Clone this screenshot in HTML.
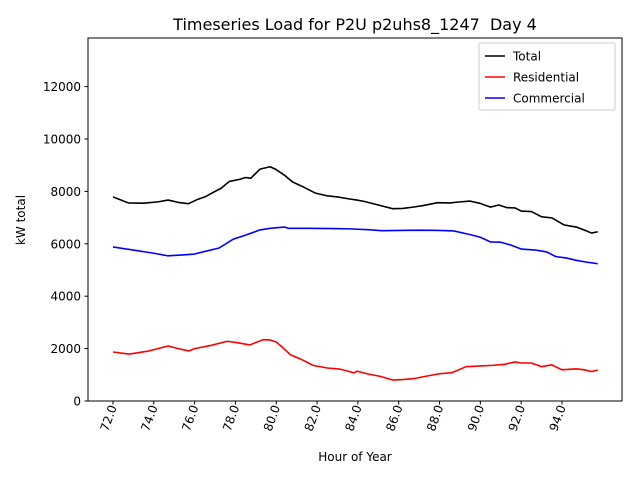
<!DOCTYPE html>
<html><head><meta charset="utf-8"><style>
body{margin:0;background:#fff}
svg{font-family:"DejaVu Sans","Liberation Sans",sans-serif}
</style></head><body>
<svg width="640" height="480" xmlns="http://www.w3.org/2000/svg">
<rect width="640" height="480" fill="#fff"/>
<text x="355" y="30" font-size="16" text-anchor="middle" style="white-space:pre">Timeseries Load for P2U p2uhs8_1247  Day 4</text>
<g id="plot"></g>
<rect x="88" y="38" width="534" height="363" fill="none" stroke="#000" stroke-width="1"/>
<text x="355" y="461" font-size="12" text-anchor="middle">Hour of Year</text>
<text transform="translate(25,220) rotate(-90)" font-size="12" text-anchor="middle">kW total</text>
<g>
<rect x="479" y="43" width="136" height="67" fill="#fff" stroke="#ccc" rx="2"/>
<line x1="485" y1="56" x2="505" y2="56" stroke="#000" stroke-width="1.6"/>
<text x="513" y="60.5" font-size="12">Total</text>
<line x1="485" y1="77" x2="505" y2="77" stroke="red" stroke-width="1.6"/>
<text x="513" y="81.5" font-size="12">Residential</text>
<line x1="485" y1="98" x2="505" y2="98" stroke="blue" stroke-width="1.6"/>
<text x="513" y="102.5" font-size="12">Commercial</text>
</g>
</svg>
<script>
const xTicks=[72,74,76,78,80,82,84,86,88,90,92,94];
const yTicks=[0,2000,4000,6000,8000,10000,12000];
const totalHours=[72,72.75,73.5,74.2,74.7,75.2,75.7,76.1,76.5,77,77.3,77.7,78.2,78.5,78.75,79.2,79.7,80,80.4,80.8,81.3,81.9,82.5,83,83.6,83.95,84.3,85,85.7,86.2,86.7,87.2,87.9,88.5,89,89.5,90,90.5,90.9,91.3,91.7,92,92.5,93,93.5,94.1,94.7,95.1,95.45,95.75];
const totalValues=[7790,7560,7550,7600,7670,7580,7530,7680,7790,8000,8120,8380,8460,8530,8500,8850,8940,8830,8620,8360,8180,7940,7830,7790,7710,7670,7620,7480,7340,7350,7400,7460,7570,7560,7600,7630,7540,7400,7480,7380,7370,7250,7230,7030,6990,6720,6640,6520,6410,6460];
const resHours=[72,72.8,73.7,74.7,75.2,75.7,76,76.8,77.6,78.2,78.7,79.35,79.7,80,80.3,80.7,81.2,81.8,82.5,83.1,83.6,83.8,83.95,84.5,85.1,85.7,86.2,86.7,87.3,88,88.6,89.3,90,90.6,91.2,91.7,92,92.5,93,93.5,94,94.7,95.1,95.45,95.75];
const resValues=[1870,1790,1900,2100,2000,1910,2000,2120,2280,2210,2140,2340,2330,2250,2050,1760,1600,1360,1260,1220,1120,1070,1140,1030,940,800,820,850,940,1040,1080,1310,1340,1360,1400,1490,1450,1450,1310,1380,1190,1230,1190,1120,1180];
const comHours=[72,73,74,74.7,75.5,76,76.4,77.2,77.9,78.5,79.2,79.7,80.4,80.6,81.5,82.8,83.6,84.5,85.2,86,87,88,88.7,89.5,90,90.5,91,91.5,92,92.7,93.25,93.7,94.2,94.7,95.2,95.75];
const comValues=[5880,5760,5640,5540,5580,5610,5690,5840,6180,6330,6530,6590,6640,6590,6590,6580,6570,6540,6500,6510,6520,6510,6490,6350,6250,6070,6060,5950,5800,5760,5690,5510,5460,5370,5300,5240];
const NS='http://www.w3.org/2000/svg';
const xs=h=>113+(h-72)*(449/22);
const ys=v=>401-v*(52.4/2000);
const g=document.getElementById('plot');
function mk(t,a){const e=document.createElementNS(NS,t);for(const k in a)e.setAttribute(k,a[k]);g.appendChild(e);return e;}
xTicks.forEach(t=>{
  const l=mk('line',{x1:xs(t),x2:xs(t),y1:401,y2:404.5,stroke:'#000'});
  
  
  const tx=mk('text',{transform:`translate(${xs(t)+4},407) rotate(-70)`,'font-size':12,'text-anchor':'end'});
  tx.textContent=t.toFixed(1);
  
  
});
yTicks.forEach(t=>{
  const l=mk('line',{x1:84.5,x2:88,y1:ys(t),y2:ys(t),stroke:'#000'});
  
  
  const tx=mk('text',{x:81,y:ys(t)+4.5,'font-size':12,'text-anchor':'end'});
  tx.textContent=t;
  
  
});
function line(hs,vs,c,name){
  const p=mk('polyline',{points:hs.map((h,i)=>xs(h)+','+ys(vs[i])).join(' '),fill:'none',stroke:c,'stroke-width':1.6,'stroke-linejoin':'round'});
  
  
}
line(totalHours,totalValues,'#000','total-line');
line(resHours,resValues,'red','residential-line');
line(comHours,comValues,'blue','commercial-line');
</script>
</body></html>
